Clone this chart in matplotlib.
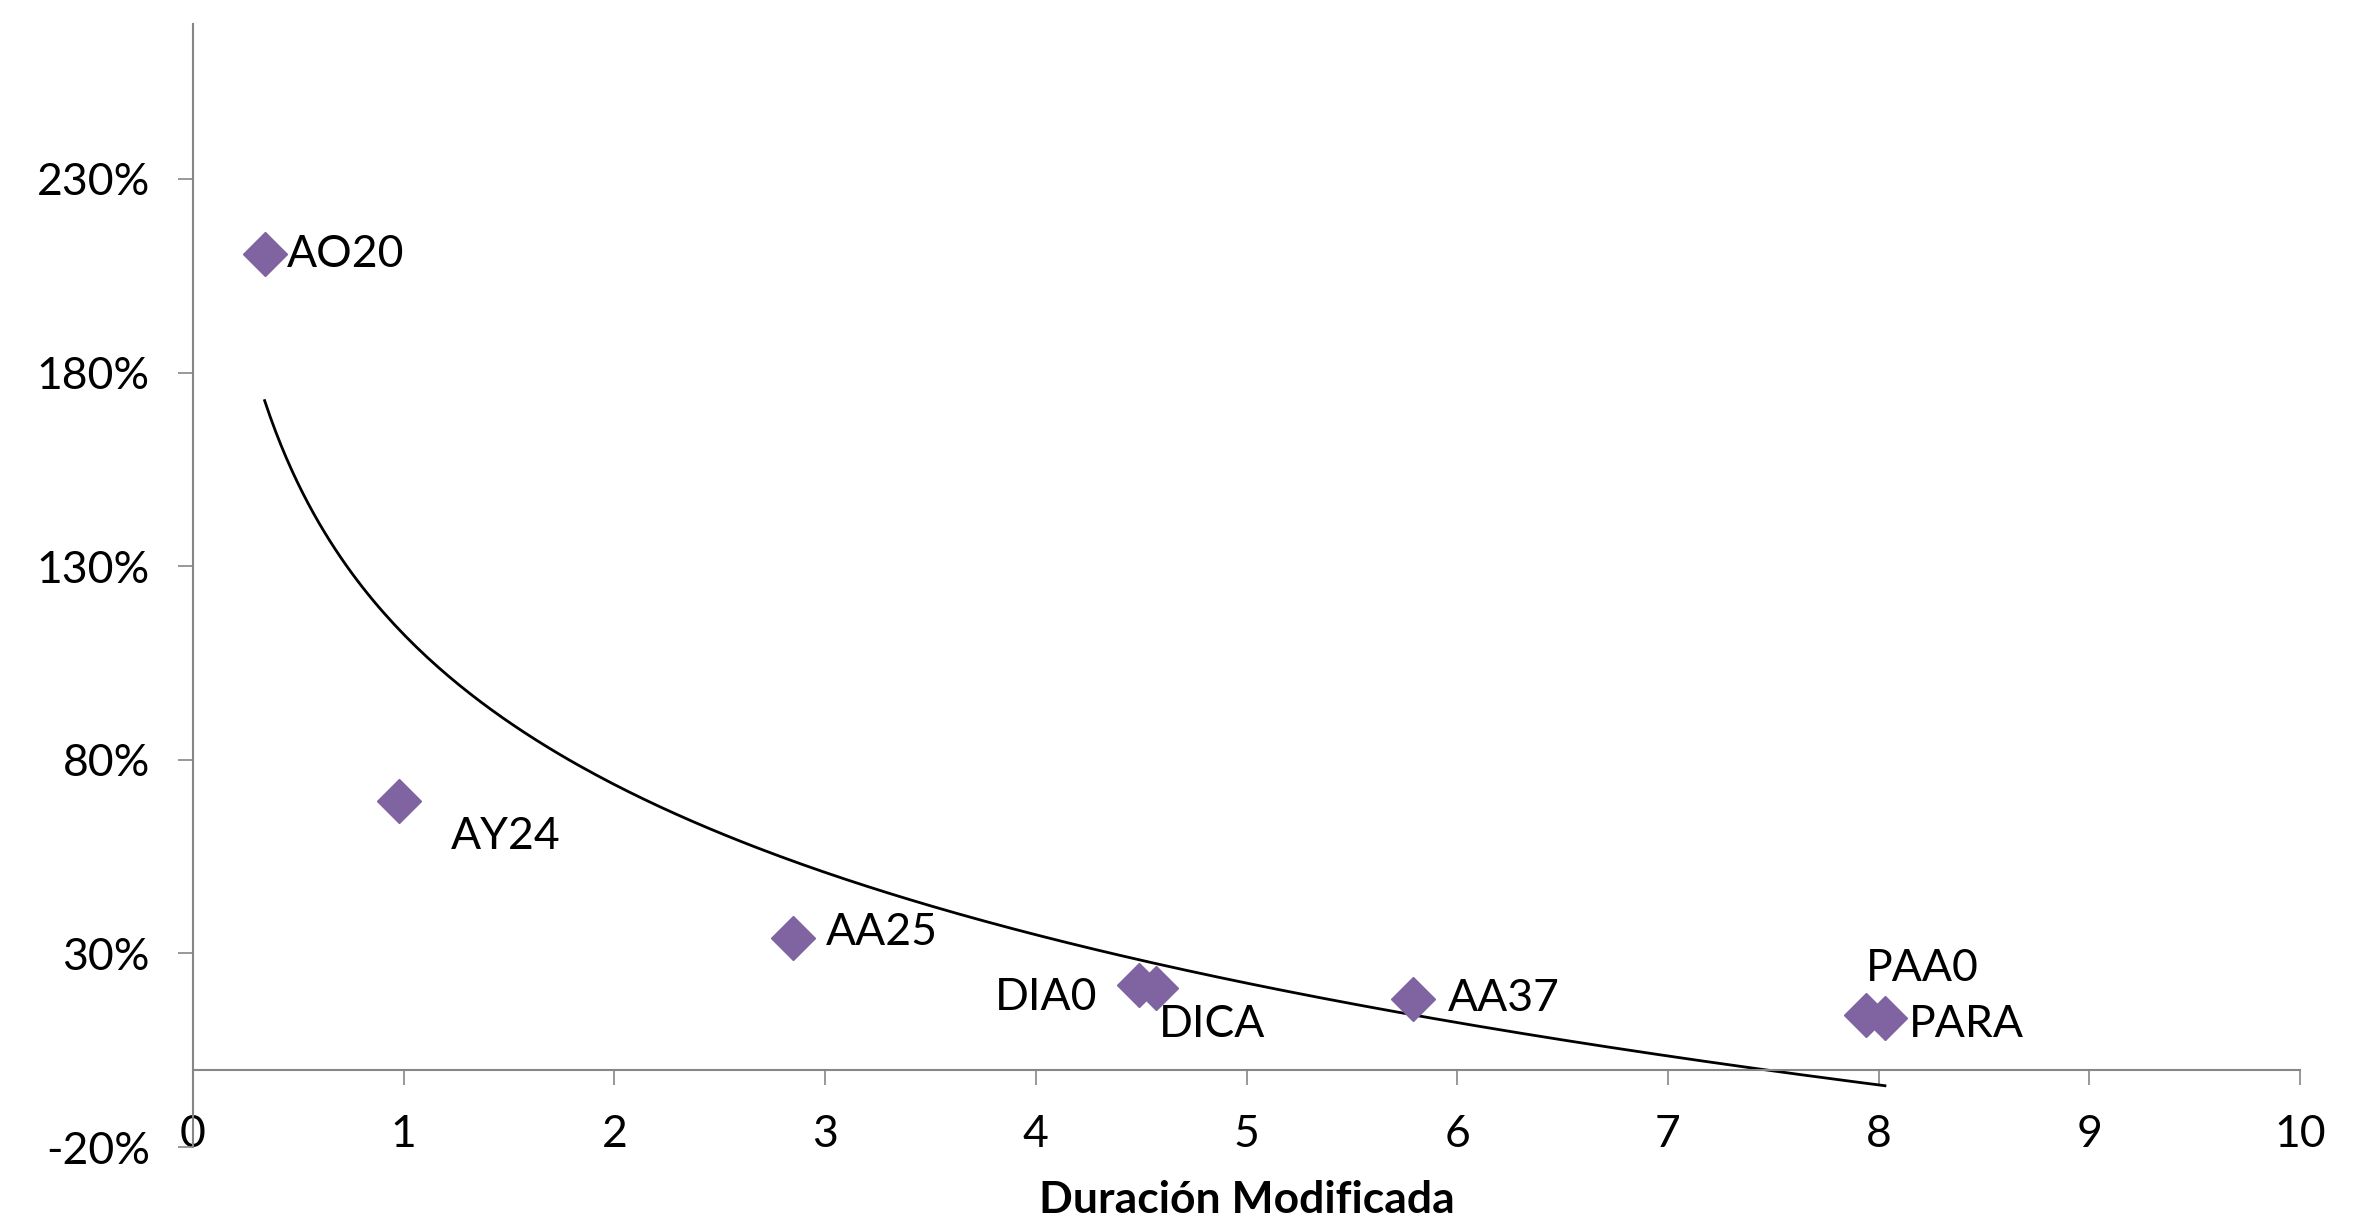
import numpy as np
import matplotlib
matplotlib.use("Agg")
import matplotlib.pyplot as plt
from matplotlib.ticker import FuncFormatter

plt.rcParams['font.family'] = ['Lato', 'DejaVu Sans']

# datos: bono, duración modificada, rendimiento
bonos = ['AO20', 'AY24', 'AA25', 'DIA0', 'DICA', 'AA37', 'PAA0', 'PARA']
duracion = [0.34, 0.98, 2.85, 4.49, 4.57, 5.79, 7.94, 8.03]
rendimiento = [2.105, 0.693, 0.339, 0.218, 0.2105, 0.183, 0.140, 0.133]

y_ticks = [-0.2, 0.3, 0.8, 1.3, 1.8, 2.3]
x_ticks = list(range(0, 11))

# posicion de etiquetas (px respecto del punto)
offsets = {'AO20': (22, 0, 'left'), 'AY24': (51, -35, 'left'), 'AA25': (32, 6, 'left'),
           'DIA0': (-42, -12, 'right'), 'DICA': (3, -36, 'left'), 'AA37': (35, 0, 'left'),
           'PAA0': (0, 47, 'left'), 'PARA': (24, -6, 'left')}

gris = '#868686'
morado = '#8064A2'
fs = 32

fig = plt.figure(figsize=(23.64, 12.2), dpi=100)
ax = fig.add_axes([193/2364, 1 - 1147/1220, (2300-193)/2364, (1147-24)/1220])

ax.plot(duracion, rendimiento, linestyle='none', marker='D', markersize=22,
        color=morado, zorder=3)

# linea de tendencia logaritmica (como Excel)
a, b = np.polyfit(np.log(duracion), rendimiento, 1)
xs = np.linspace(min(duracion), max(duracion), 300)
ax.plot(xs, a*np.log(xs) + b, color='black', lw=2.0, zorder=2)

for nombre, x, y in zip(bonos, duracion, rendimiento):
    dx, dy, ha = offsets[nombre]
    ax.annotate(nombre, (x, y), xytext=(dx*0.72, dy*0.72), textcoords='offset points',
                ha=ha, va='center', fontsize=fs)

ax.set_xlim(0, 10)
ax.set_ylim(-0.2, 2.7)
ax.set_yticks(y_ticks)
ax.yaxis.set_major_formatter(FuncFormatter(lambda v, p: f"{v*100:.0f}%"))
ax.set_xticks(x_ticks)
ax.set_xticklabels([])

for s in ['top', 'right']:
    ax.spines[s].set_visible(False)
ax.spines['bottom'].set_position(('data', 0))
ax.spines['bottom'].set_color(gris)
ax.spines['left'].set_color(gris)
ax.spines['bottom'].set_linewidth(1.5)
ax.spines['left'].set_linewidth(1.5)
ax.tick_params(axis='both', direction='out', length=11, width=1.2, color=gris,
               labelsize=fs, pad=20)

# etiquetas del eje x en la parte baja
sec = ax.secondary_xaxis(0)
sec.set_xticks(x_ticks)
sec.set_xticklabels([str(t) for t in x_ticks])
sec.tick_params(length=0, labelsize=fs, pad=-24)
sec.spines['bottom'].set_visible(False)

ax.text(0.5, -0.047, 'Duración Modificada', transform=ax.transAxes, ha='center',
        va='center', fontsize=fs, fontweight='bold')

fig.savefig('out.png', dpi=100)
